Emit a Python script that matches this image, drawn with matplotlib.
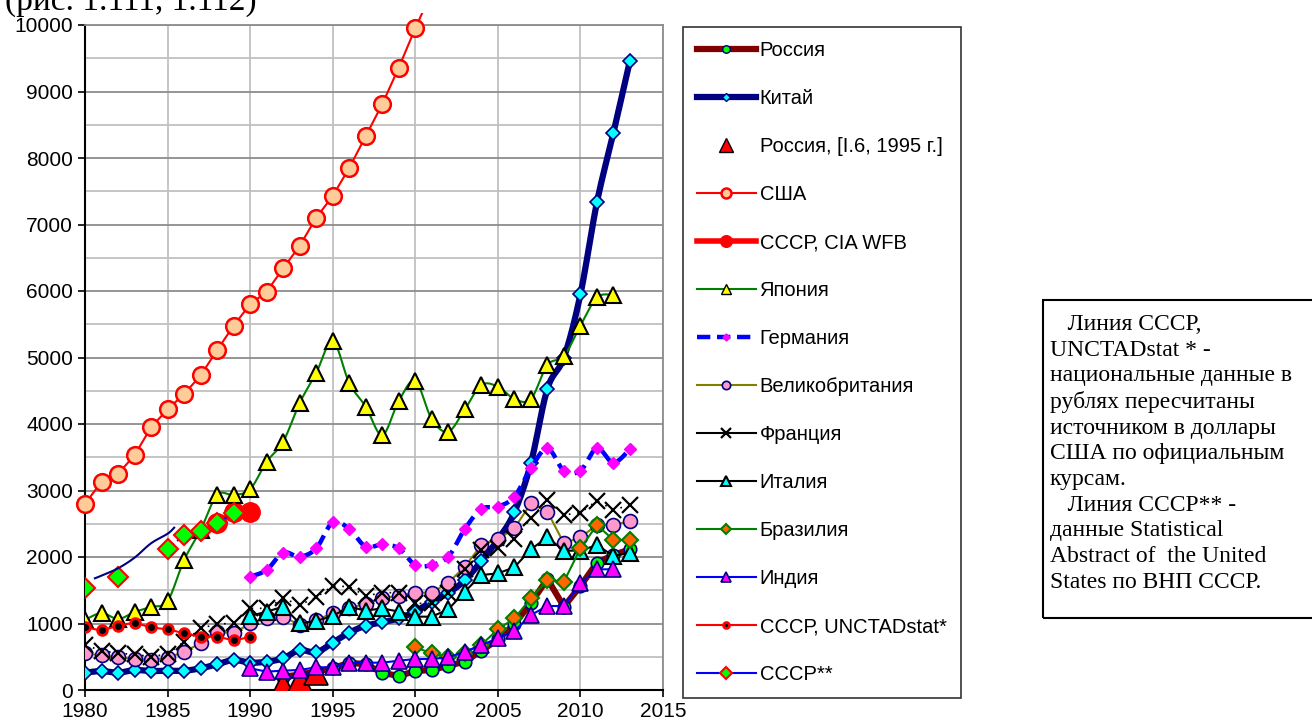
import numpy as np
import matplotlib
matplotlib.use("Agg")
import matplotlib.pyplot as plt
from matplotlib.lines import Line2D
from matplotlib.patches import Rectangle

plt.rcParams['font.family'] = ['Liberation Sans', 'DejaVu Sans']

nan = np.nan

# GDP, bn USD
years_russia = [1992, 1993, 1994, 1995, 1996, 1997, 1998, 1999, 2000, 2001, 2002,
                2003, 2004, 2005, 2006, 2007, 2008, 2009, 2010, 2011, 2012, 2013]
russia = [200, 230, 280, 326, 411, 386, 260, 210, 286, 301, 366,
          426, 590, 760, 990, 1308, 1669, 1253, 1564, 1914, 2030, 2116]

years_china = list(range(1980, 2014))
china = [260, 285, 260, 300, 285, 290, 290, 326, 386, 451, 411, 426, 476, 601, 566, 712,
         862, 967, 1017, 1078, 1180, 1330, 1460, 1650, 1940, 2260, 2672, 3410, 4530, 5000,
         5950, 7333, 8381, 9464]

years_russia95 = [1992, 1993, 1994]
russia95 = [80, 150, 250]

years_usa = list(range(1980, 2002))
usa = [2800, 3130, 3250, 3530, 3950, 4220, 4450, 4730, 5110, 5480, 5800, 5990, 6340,
       6680, 7100, 7430, 7850, 8330, 8810, 9360, 9950, 10500]

years_cia = [1988, 1989, 1990]
ussr_cia = [2506, 2682, 2682]

years_japan = list(range(1980, 2013))
japan = [1053, 1158, 1068, 1173, 1250, 1338, 1955, 2406, 2932, 2932, 3020, 3433, 3734,
         4316, 4767, 5248, 4617, 4261, 3835, 4346, 4647, 4071, 3885, 4221, 4586, 4561,
         4376, 4376, 4887, 5022, 5478, 5905, 5940]

years_germany = list(range(1990, 2014))
germany = [1704, 1805, 2065, 2005, 2130, 2521, 2421, 2155, 2190, 2130, 1880, 1880, 2005,
           2421, 2722, 2757, 2907, 3333, 3634, 3298, 3298, 3634, 3418, 3624]

years_uk = list(range(1980, 2014))
uk = [551, 520, 490, 470, 450, 480, 576, 702, 877, 852, 1002, 1078, 1103, 977, 1053,
      1153, 1230, 1300, 1380, 1420, 1464, 1464, 1614, 1855, 2180, 2266, 2431, 2807,
      2682, 2206, 2296, 2481, 2481, 2541]

years_france = list(range(1980, 2014))
france = [677, 591, 551, 536, 501, 541, 727, 927, 992, 1002, 1228, 1228, 1378, 1278,
          1394, 1564, 1554, 1414, 1464, 1464, 1303, 1303, 1454, 1815, 2105, 2130, 2266,
          2582, 2857, 2632, 2667, 2847, 2707, 2782]

years_italy = list(range(1990, 2014))
italy = [1113, 1178, 1253, 1002, 1038, 1113, 1253, 1193, 1228, 1178, 1103, 1103, 1213,
         1479, 1729, 1754, 1845, 2116, 2296, 2095, 2095, 2180, 2015, 2065]

years_brazil = list(range(2000, 2014))
brazil = [642, 551, 501, 560, 680, 912, 1078, 1378, 1654, 1629, 2130, 2481, 2256, 2256]

years_india = list(range(1990, 2013))
india = [326, 276, 291, 301, 341, 341, 401, 411, 411, 441, 466, 466, 491, 576, 677, 777,
         887, 1128, 1263, 1263, 1604, 1815, 1815]

years_unctad = list(range(1980, 1991))
ussr_unctad = [952, 902, 967, 1002, 942, 912, 852, 802, 802, 752, 802]

years_ussr2 = list(range(1980, 1990))
ussr2 = [1529, nan, 1704, nan, nan, 2120, 2331, 2396, 2506, 2667]

# unlabeled thin navy curve at the left
years_curve = [1980.6, 1981, 1982, 1983, 1984, 1985, 1985.4]
curve = [1680, 1720, 1830, 1990, 2206, 2350, 2441]


def smooth(x, y, n=16):
    # Catmull-Rom curve through the points (like Excel "smoothed line")
    x = np.asarray(x, float)
    y = np.asarray(y, float)
    xs, ys = [], []
    for i in range(len(x) - 1):
        p0 = max(i - 1, 0)
        p3 = min(i + 2, len(x) - 1)
        t = np.linspace(0, 1, n, endpoint=False)
        for arr, out in ((x, xs), (y, ys)):
            a0, a1, a2, a3 = arr[p0], arr[i], arr[i + 1], arr[p3]
            out.extend(0.5 * (2 * a1 + (-a0 + a2) * t + (2 * a0 - 5 * a1 + 4 * a2 - a3) * t ** 2
                              + (-a0 + 3 * a1 - 3 * a2 + a3) * t ** 3))
    xs.append(x[-1])
    ys.append(y[-1])
    return xs, ys


fig = plt.figure(figsize=(13.12, 7.24), dpi=100)
W, H = 1312, 724
ax = fig.add_axes([85 / W, 1 - 690 / H, (663 - 85) / W, (690 - 25) / H])

handles = []

# Россия
ax.plot(years_russia, russia, color='#800000', lw=4.5, zorder=3)
ax.plot(years_russia, russia, ls='none', marker='o', ms=9, mfc='#00ff00', mec='#000080', mew=1.2, zorder=3)
handles.append(Line2D([], [], color='#800000', lw=4.5, marker='o', ms=9, mfc='#00ff00', mec='#000080'))

# Китай
cx, cy = smooth(years_china, china)
ax.plot(cx, cy, color='#000080', lw=4.5, zorder=3)
ax.plot(years_china, china, ls='none', marker='D', ms=7, mfc='#00ffff', mec='#000080', mew=1.2, zorder=3)
handles.append(Line2D([], [], color='#000080', lw=4.5, marker='D', ms=7, mfc='#00ffff', mec='#000080'))

# Россия, [I.6, 1995 г.]
ax.plot(years_russia95, russia95, ls='none', marker='^', ms=17, mfc='red', mec='black', mew=1.2, zorder=3)
handles.append(Line2D([], [], ls='none', marker='^', ms=17, mfc='red', mec='black'))

# США
l_usa, = ax.plot(years_usa, usa, color='red', lw=1.5, marker='o', ms=12, mfc='#ffcc99', mec='red',
                 mew=1.8, zorder=3)
l_usa.set_clip_path(Rectangle((0, 0), 1, 1 - 13 / H, transform=fig.transFigure))
handles.append(l_usa)

# СССР, CIA WFB
l_cia, = ax.plot(years_cia, ussr_cia, color='red', lw=4, marker='o', ms=14, mfc='red', mec='red', zorder=3)
handles.append(l_cia)

# Япония
jx, jy = smooth(years_japan, japan)
ax.plot(jx, jy, color='green', lw=1.5, zorder=3)
ax.plot(years_japan, japan, ls='none', marker='^', ms=12, mfc='yellow', mec='black', mew=1.5, zorder=3)
handles.append(Line2D([], [], color='green', lw=1.5, marker='^', ms=12, mfc='yellow', mec='black'))

# Германия
gx, gy = smooth(years_germany, germany)
ax.plot(gx, gy, color='blue', lw=3.2, ls=(0, (3, 1.5)), zorder=3)
ax.plot(years_germany, germany, ls='none', marker='D', ms=6, mfc='#ff00ff', mec='#ff00ff', zorder=3)
handles.append(Line2D([], [], color='blue', lw=3.2, ls=(0, (3, 1.5)), marker='D', ms=6,
                      mfc='#ff00ff', mec='#ff00ff'))

# Великобритания
l_uk, = ax.plot(years_uk, uk, color='#808000', lw=1.5, marker='o', ms=10, mfc='#ff99cc',
                mec='#000080', mew=1.2, zorder=3)
handles.append(l_uk)

# Франция
ax.plot(years_france, france, color='black', lw=1.2, ls=(0, (1, 4)), marker='x', ms=11, mew=1.6, zorder=3)
handles.append(Line2D([], [], color='black', lw=1.5, marker='x', ms=11, mew=1.6))

# Италия
l_it, = ax.plot(years_italy, italy, color='black', lw=1.5, marker='^', ms=11, mfc='#00ffff',
                mec='black', mew=1.5, zorder=3)
handles.append(l_it)

# Бразилия
l_br, = ax.plot(years_brazil, brazil, color='green', lw=1.5, marker='D', ms=8, mfc='#ff6600',
                mec='green', mew=1.5, zorder=3)
handles.append(l_br)

# Индия
l_in, = ax.plot(years_india, india, color='blue', lw=1.5, marker='^', ms=11, mfc='#ff00ff',
                mec='#000080', mew=1.2, zorder=3)
handles.append(l_in)

# СССР, UNCTADstat*
ux, uy = smooth(years_unctad, ussr_unctad)
ax.plot(ux, uy, color='red', lw=1.5, zorder=3)
ax.plot(years_unctad, ussr_unctad, ls='none', marker='o', ms=7, mfc='black', mec='red', mew=2, zorder=3)
handles.append(Line2D([], [], color='red', lw=1.5, marker='o', ms=7, mfc='black', mec='red', mew=2))

# СССР**
l_s2, = ax.plot(years_ussr2, ussr2, color='blue', lw=1.5, ls=(0, (4, 2)), marker='D', ms=10,
                mfc='#00ff00', mec='red', mew=1.5, zorder=3)
handles.append(Line2D([], [], color='blue', lw=1.5, marker='D', ms=10, mfc='#00ff00', mec='red', mew=1.5))

# thin navy curve
kx, ky = smooth(years_curve, curve)
ax.plot(kx, ky, color='#000080', lw=1.5, zorder=3)

labels = ['Россия', 'Китай', 'Россия, [I.6, 1995 г.]', 'США', 'СССР, CIA WFB', 'Япония',
          'Германия', 'Великобритания', 'Франция', 'Италия', 'Бразилия', 'Индия',
          'СССР, UNCTADstat*', 'СССР**']

ax.set_xlim(1980, 2015)
ax.set_ylim(0, 10000)
ax.set_xticks(range(1980, 2016, 5))
ax.set_yticks(range(0, 10001, 1000))
ax.set_yticks(range(500, 10000, 1000), minor=True)
ax.tick_params(axis='both', which='major', labelsize=15, direction='out', length=5, width=1.2)
ax.tick_params(axis='y', which='minor', length=0)
ax.grid(axis='y', which='major', color='#8c8c8c', lw=1.3, zorder=0)
ax.grid(axis='y', which='minor', color='#c0c0c0', lw=1.3, zorder=0)
ax.grid(axis='x', which='major', color='#c0c0c0', lw=1.3, zorder=0)
ax.set_axisbelow(True)
for s in ('left', 'bottom'):
    ax.spines[s].set_color('black')
    ax.spines[s].set_linewidth(1.5)
for s in ('top', 'right'):
    ax.spines[s].set_color('#8c8c8c')
    ax.spines[s].set_linewidth(1.3)

leg = fig.legend(handles, labels, loc='upper left', bbox_to_anchor=(683 / W, 1 - 27 / H),
                 fontsize=14.5, frameon=True, fancybox=False, edgecolor='black', markerscale=0.6,
                 handlelength=2.9, handletextpad=0.2, labelspacing=1.44, borderpad=0.7,
                 borderaxespad=0, numpoints=1)
leg.get_frame().set_linewidth(1.2)

# note box on the right
fig.patches.append(Rectangle((1043 / W, 1 - 618 / H), 300 / W, 318 / H, transform=fig.transFigure,
                             fill=False, edgecolor='black', lw=1.5))
note = ("   Линия СССР,\nUNCTADstat * -\nнациональные данные в\nрублях пересчитаны\n"
        "источником в доллары\nСША по официальным\nкурсам.\n   Линия СССР** -\n"
        "данные Statistical\nAbstract of  the United\nStates по ВНП СССР.")
fig.text(1050 / W, 1 - 314 / H, note, ha='left', va='top', fontsize=17,
         family=['Liberation Serif', 'DejaVu Serif'], linespacing=1.29)

fig.text(5 / W, 1 - 10 / H, '(рис. 1.111, 1.112)', ha='left', va='baseline', fontsize=24,
         family=['Liberation Serif', 'DejaVu Serif'])

fig.savefig('out.png', dpi=100)
